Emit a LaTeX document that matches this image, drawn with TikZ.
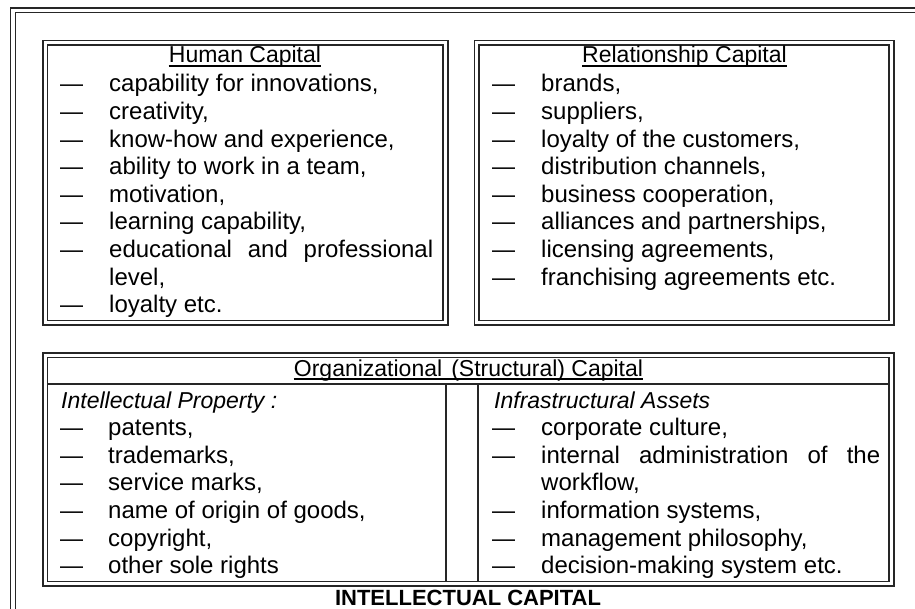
\documentclass[tikz,border=0pt]{standalone}
\usepackage{fontspec}
\setmainfont{Liberation Sans}
% one list row: dash at x=#2, text at x=#3, baseline y=#4
\newcommand\listrow[5]{%
  \node[dashmark] (#1d) at (#2,#4) {\textemdash};
  \node[txt] (#1) at (#3,#4) {#5};}
\begin{document}
\begin{tikzpicture}[x=1pt,y=-1pt,
  frameline/.style={line width=1.6pt, draw=black!85},
  rule/.style={line width=1.4pt, draw=black!85},
  txt/.style={anchor=base west, inner sep=0pt, font=\fontsize{24}{27.6}\selectfont},
  dashmark/.style={anchor=base west, inner sep=0pt, font=\fontsize{23}{27.6}\selectfont},
  ttl/.style={anchor=base, inner sep=0pt, font=\fontsize{23}{27.6}\selectfont},
  head/.style={anchor=base west, inner sep=0pt, font=\fontsize{23}{27.6}\selectfont\itshape},
  bigttl/.style={anchor=base, inner sep=0pt, font=\fontsize{22}{26}\selectfont\bfseries},
  uline/.style={line width=1.1pt}]
\useasboundingbox (0,0) rectangle (915,609);

% outer double frame, running off the right and bottom
\begin{scope}
  \clip (0,0) rectangle (915,609);
  \draw[frameline] (10.5,8.3) rectangle (940,640);
  \draw[frameline] (15.3,12.7) rectangle (935,635);
\end{scope}

% Human Capital box
\draw[frameline] (42.7,40.7) rectangle (447.7,325.3);
\draw[frameline] (47.3,45.3) rectangle (443.1,320.7);
% Relationship Capital box
\draw[frameline] (474.3,40.7) rectangle (893.7,325.3);
\draw[frameline] (478.9,45.3) rectangle (889.1,320.7);
% Organizational box
\draw[frameline] (42.7,353.0) rectangle (893.7,586.0);
\draw[frameline] (47.3,357.6) rectangle (889.1,581.4);
\draw[rule] (47.3,384) -- (889.1,384);
\draw[rule] (446,384) -- (446,581.4);
\draw[rule] (478,384) -- (478,581.4);

% titles
\node[ttl] (hcap) at (245,63) {Human Capital};
\node[ttl] (rcap) at (684.5,63) {Relationship Capital};
\node[ttl] (ocap) at (468.5,376) {Organizational\hspace{0.12em} (Structural) Capital};
\foreach \n in {hcap,rcap,ocap}
  \draw[uline] ([yshift=-3pt]\n.base west) -- ([yshift=-3pt]\n.base east);

% Human Capital items
\listrow{h1}{60}{109}{92.0}{capability for innovations,}
\listrow{h2}{60}{109}{119.6}{creativity,}
\listrow{h3}{60}{109}{147.2}{know-how and experience,}
\listrow{h4}{60}{109}{174.8}{ability to work in a team,}
\listrow{h5}{60}{109}{202.4}{motivation,}
\listrow{h6}{60}{109}{230.0}{learning capability,}
\listrow{h7}{60}{109}{257.6}{\makebox[324pt][s]{educational\hfill and\hfill professional}}
\node[txt] (h7b) at (109,285.2) {level,};
\listrow{h8}{60}{109}{312.8}{loyalty etc.}

% Relationship Capital items
\listrow{r1}{492}{541}{92.0}{brands,}
\listrow{r2}{492}{541}{119.6}{suppliers,}
\listrow{r3}{492}{541}{147.2}{loyalty of the customers,}
\listrow{r4}{492}{541}{174.8}{distribution channels,}
\listrow{r5}{492}{541}{202.4}{business cooperation,}
\listrow{r6}{492}{541}{230.0}{alliances and partnerships,}
\listrow{r7}{492}{541}{257.6}{licensing agreements,}
\listrow{r8}{492}{541}{286.0}{franchising agreements etc.}

% Intellectual Property column
\node[head] (iph) at (61,408) {Intellectual Property :};
\listrow{p1}{60}{108}{435.6}{patents,}
\listrow{p2}{60}{108}{463.2}{trademarks,}
\listrow{p3}{60}{108}{490.8}{service marks,}
\listrow{p4}{60}{108}{518.4}{name of origin of goods,}
\listrow{p5}{60}{108}{546.0}{copyright,}
\listrow{p6}{60}{108}{573.6}{other sole rights}

% Infrastructural Assets column
\node[head] (iah) at (494,408) {Infrastructural Assets};
\listrow{a1}{492}{541}{435.6}{corporate culture,}
\listrow{a2}{492}{541}{463.2}{\makebox[339pt][s]{internal\hfill administration\hfill of\hfill the}}
\node[txt] (a2b) at (541,490.8) {workflow,};
\listrow{a3}{492}{541}{518.4}{information systems,}
\listrow{a4}{492}{541}{546.0}{management philosophy,}
\listrow{a5}{492}{541}{573.6}{decision-making system etc.}

% caption
\node[bigttl] (ic) at (468,605.5) {INTELLECTUAL CAPITAL};
\end{tikzpicture}
\end{document}
